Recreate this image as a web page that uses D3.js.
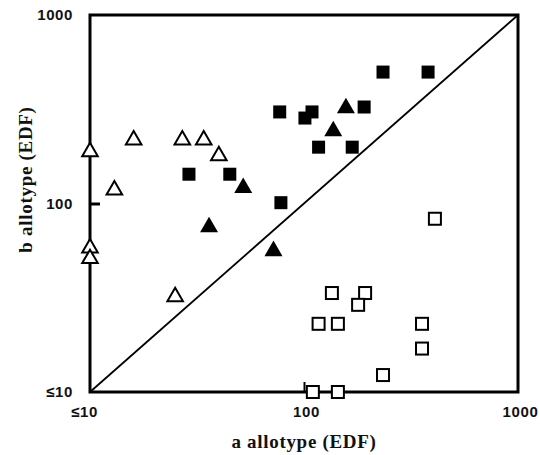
<!DOCTYPE html>
<html>
<head>
<meta charset="utf-8">
<script src="https://cdn.jsdelivr.net/npm/d3@7"></script>
<style>
  body { margin: 0; background: #fff; }
  svg { display: block; }
  .tick-label { font-family: "Liberation Sans", Arial, sans-serif; font-weight: bold; font-size: 15px; letter-spacing: 0.6px; fill: #111; }
  .axis-title { font-family: "Liberation Serif", "Times New Roman", serif; font-weight: bold; font-size: 19px; letter-spacing: 0.7px; fill: #111; }
</style>
</head>
<body>
<svg id="chart" width="540" height="455"></svg>
<script>
// a allotype (x) vs b allotype (y), EDF
const tickValues = [10, 100, 1000];
const tickLabels = ["\u226410", "100", "1000"];

const filledSquaresX = [29, 45, 77, 109, 101, 191, 117, 168, 234, 380, 78];
const filledSquaresY = [143, 143, 306, 306, 284, 325, 199, 199, 498, 498, 101];

const filledTrianglesX = [52, 36, 72, 157, 137];
const filledTrianglesY = [121, 75, 56, 321, 242];

const openTrianglesX = [10, 10, 10, 16, 27, 34, 40, 13, 25];
const openTrianglesY = [188, 58, 51, 217, 217, 217, 179, 118, 32];

const openSquaresX = [409, 135, 193, 179, 117, 144, 356, 356, 234, 110, 144];
const openSquaresY = [83, 33.5, 33.5, 29, 23, 23, 23, 17, 12.3, 10, 10];

const svg = d3.select('#chart');
const margin = { top: 15, right: 22, bottom: 63, left: 90 };
const width = 540 - margin.left - margin.right;
const height = 455 - margin.top - margin.bottom;

const x = d3.scaleLog().domain([10, 1000]).range([0, width]);
const y = d3.scaleLog().domain([10, 1000]).range([height, 0]);

const g = svg.append('g')
    .attr('transform', 'translate(' + margin.left + ',' + margin.top + ')');

// identity line
g.append('line')
    .attr('x1', x(10)).attr('y1', y(10))
    .attr('x2', x(1000)).attr('y2', y(1000))
    .attr('stroke', '#000')
    .attr('stroke-width', 1.8);

// axes (ticks point inward, only the middle one shows)
const xAxis = d3.axisBottom(x)
    .tickValues(tickValues)
    .tickFormat((d, i) => tickLabels[i])
    .tickSizeInner(-10)
    .tickSizeOuter(0)
    .tickPadding(14);
const gx = g.append('g').attr('transform', 'translate(0,' + height + ')').call(xAxis);
gx.select('.domain').remove();
gx.selectAll('.tick line')
    .attr('stroke', '#000')
    .attr('stroke-width', 2)
    .attr('opacity', (d) => d === 100 ? 1 : 0);
gx.selectAll('.tick text')
    .attr('class', 'tick-label')
    .attr('font-family', null).attr('font-size', null)
    .attr('dx', (d) => d === 10 ? -6 : d === 1000 ? 2 : 2);

const yAxis = d3.axisLeft(y)
    .tickValues(tickValues)
    .tickFormat((d, i) => tickLabels[i])
    .tickSizeInner(-10)
    .tickSizeOuter(0)
    .tickPadding(17);
const gy = g.append('g').call(yAxis);
gy.select('.domain').remove();
gy.selectAll('.tick line')
    .attr('stroke', '#000')
    .attr('stroke-width', 3)
    .attr('opacity', (d) => d === 100 ? 1 : 0);
gy.selectAll('.tick text')
    .attr('class', 'tick-label')
    .attr('font-family', null).attr('font-size', null);

// frame
g.append('rect')
    .attr('x', 0).attr('y', 0)
    .attr('width', width).attr('height', height)
    .attr('fill', 'none')
    .attr('stroke', '#000')
    .attr('stroke-width', 3);

// markers
const tri = d3.symbol().type(d3.symbolTriangle);

g.selectAll('.open-tri')
    .data(openTrianglesX.map((v, i) => [v, openTrianglesY[i]]))
    .enter().append('path')
    .attr('d', tri.size(105)())
    .attr('transform', d => 'translate(' + x(d[0]) + ',' + y(d[1]) + ')')
    .attr('fill', '#fff')
    .attr('stroke', '#000')
    .attr('stroke-width', 2);

g.selectAll('.open-sq')
    .data(openSquaresX.map((v, i) => [v, openSquaresY[i]]))
    .enter().append('rect')
    .attr('x', d => x(d[0]) - 6)
    .attr('y', d => y(d[1]) - 6)
    .attr('width', 12).attr('height', 12)
    .attr('fill', '#fff')
    .attr('stroke', '#000')
    .attr('stroke-width', 2);

g.selectAll('.filled-sq')
    .data(filledSquaresX.map((v, i) => [v, filledSquaresY[i]]))
    .enter().append('rect')
    .attr('x', d => x(d[0]) - 6.5)
    .attr('y', d => y(d[1]) - 6.5)
    .attr('width', 13).attr('height', 13)
    .attr('fill', '#000');

g.selectAll('.filled-tri')
    .data(filledTrianglesX.map((v, i) => [v, filledTrianglesY[i]]))
    .enter().append('path')
    .attr('d', tri.size(140)())
    .attr('transform', d => 'translate(' + x(d[0]) + ',' + y(d[1]) + ')')
    .attr('fill', '#000');

// axis titles
g.append('text')
    .attr('class', 'axis-title')
    .attr('text-anchor', 'middle')
    .attr('x', 214)
    .attr('y', height + 56)
    .text('a allotype (EDF)');

g.append('text')
    .attr('class', 'axis-title')
    .attr('text-anchor', 'middle')
    .attr('transform', 'translate(-58,' + (height / 2 - 24) + ') rotate(-90)')
    .text('b allotype (EDF)');
</script>
</body>
</html>
